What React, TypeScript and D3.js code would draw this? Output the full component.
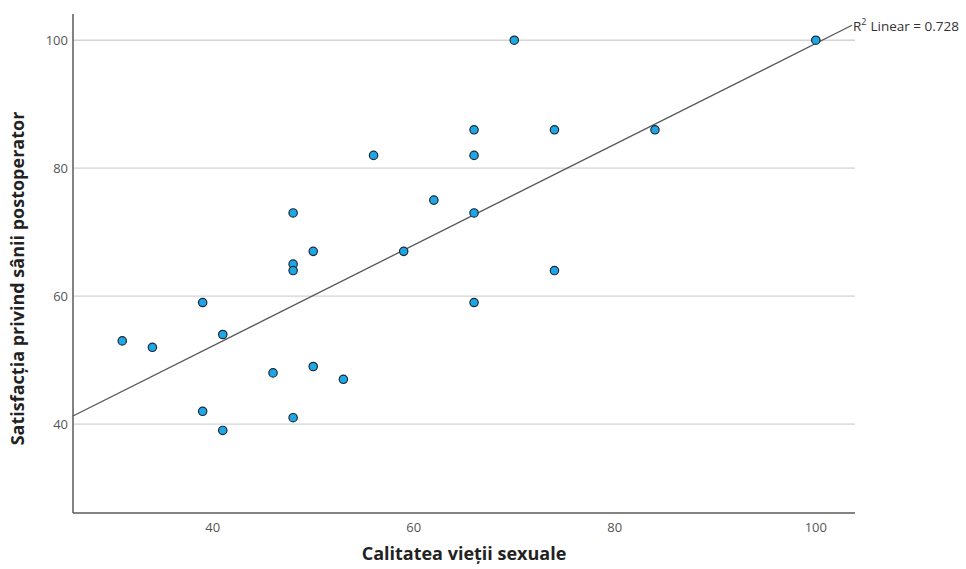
import React, { useEffect, useRef } from 'react';
import * as d3 from 'd3';

const width = 966;
const height = 569;
const margin = { top: 14, right: 111, bottom: 56, left: 73 };

// Calitatea vietii sexuale (x) vs satisfactia (y)
const qualityValues = [31, 34, 39, 39, 41, 41, 46, 48, 48, 48, 48, 50, 50, 53, 56, 59, 62, 66, 66, 66, 66, 70, 74, 74, 84, 100];
const satisfactionValues = [53, 52, 59, 42, 54, 39, 48, 73, 65, 64, 41, 67, 49, 47, 82, 67, 75, 86, 82, 73, 59, 100, 86, 64, 86, 100];

const xTicks = [40, 60, 80, 100];
const yTicks = [40, 60, 80, 100];

// fit line as drawn by SPSS
const fitIntercept = 20.7;
const fitSlope = 0.788;
const fitLabel = 'Linear = 0.728';

const xTitle = 'Calitatea vieții sexuale';
const yTitle = 'Satisfacția privind sânii postoperator';

export default function App() {
  const ref = useRef<SVGSVGElement | null>(null);

  useEffect(() => {
    const svg = d3.select(ref.current);
    svg.selectAll('*').remove();

    const x = d3.scaleLinear().domain([26.1, 103.9]).range([margin.left, width - margin.right]);
    const y = d3.scaleLinear().domain([26.1, 104.1]).range([height - margin.bottom, margin.top]);

    const font = '"Open Sans", "DejaVu Sans", sans-serif';

    // horizontal grid
    svg.append('g')
      .selectAll('line')
      .data(yTicks)
      .join('line')
      .attr('x1', margin.left)
      .attr('x2', width - margin.right)
      .attr('y1', d => y(d))
      .attr('y2', d => y(d))
      .attr('stroke', '#d4d4d4')
      .attr('stroke-width', 1.3);

    // axes (lines only, no tick marks)
    svg.append('line')
      .attr('x1', margin.left).attr('x2', margin.left)
      .attr('y1', margin.top).attr('y2', height - margin.bottom)
      .attr('stroke', '#5a5a5a').attr('stroke-width', 1.5);
    svg.append('line')
      .attr('x1', margin.left).attr('x2', width - margin.right)
      .attr('y1', height - margin.bottom).attr('y2', height - margin.bottom)
      .attr('stroke', '#5a5a5a').attr('stroke-width', 1.5);

    svg.append('g')
      .selectAll('text')
      .data(yTicks)
      .join('text')
      .attr('x', margin.left - 5)
      .attr('y', d => y(d))
      .attr('dy', '0.35em')
      .attr('text-anchor', 'end')
      .attr('font-family', font)
      .attr('font-size', 13)
      .attr('fill', '#555')
      .text(d => d);

    svg.append('g')
      .selectAll('text')
      .data(xTicks)
      .join('text')
      .attr('x', d => x(d))
      .attr('y', height - margin.bottom + 19)
      .attr('text-anchor', 'middle')
      .attr('font-family', font)
      .attr('font-size', 13)
      .attr('fill', '#555')
      .text(d => d);

    // fit line across the plot
    const [x0, x1] = x.domain();
    const line = d3.line<number>()
      .x(d => x(d))
      .y(d => y(fitIntercept + fitSlope * d));
    svg.append('path')
      .attr('d', line([x0, x1 - 0.3]))
      .attr('stroke', '#555')
      .attr('stroke-width', 1.3)
      .attr('fill', 'none');

    const lbl = svg.append('text')
      .attr('x', x(x1 - 0.3) + 1)
      .attr('y', y(fitIntercept + fitSlope * (x1 - 0.3)) + 6)
      .attr('font-family', font)
      .attr('font-size', 13.5)
      .attr('fill', '#333');
    lbl.append('tspan').text('R');
    lbl.append('tspan').attr('dy', -6).attr('font-size', 9).text('2');
    lbl.append('tspan').attr('dy', 6).attr('dx', 4).text(fitLabel);

    // points
    svg.append('g')
      .selectAll('circle')
      .data(qualityValues)
      .join('circle')
      .attr('cx', d => x(d))
      .attr('cy', (d, i) => y(satisfactionValues[i]))
      .attr('r', 4.2)
      .attr('fill', '#1ea6e6')
      .attr('stroke', '#1b2a33')
      .attr('stroke-width', 1.2);

    // titles
    svg.append('text')
      .attr('x', (margin.left + width - margin.right) / 2)
      .attr('y', height - 9)
      .attr('text-anchor', 'middle')
      .attr('font-family', font)
      .attr('font-weight', 'bold')
      .attr('font-size', 18)
      .attr('fill', '#222')
      .text(xTitle);

    svg.append('text')
      .attr('transform', `translate(24, ${(margin.top + height - margin.bottom) / 2 + 15}) rotate(-90)`)
      .attr('text-anchor', 'middle')
      .attr('font-family', font)
      .attr('font-weight', 'bold')
      .attr('font-size', 18)
      .attr('fill', '#222')
      .text(yTitle);
  }, []);

  return (
    <svg ref={ref} width={width} height={height} style={{ position: 'absolute', left: 0, top: 0, background: '#fff' }} />
  );
}
